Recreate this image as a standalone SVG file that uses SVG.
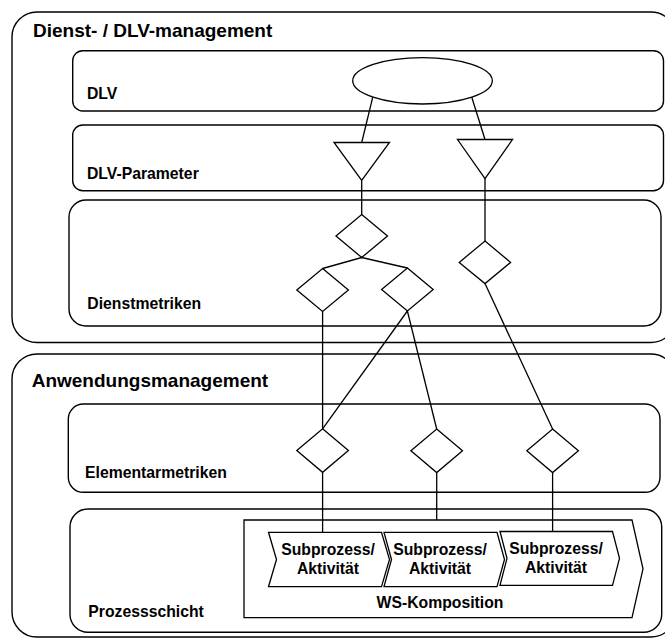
<svg xmlns="http://www.w3.org/2000/svg" width="665" height="639" viewBox="0 0 665 639">
<style>
.box{fill:none;stroke:#000;stroke-width:1.4}
.shape{fill:#fff;stroke:#000;stroke-width:1.3}
.con{fill:none;stroke:#000;stroke-width:1.3}
.t{font-family:"Liberation Sans",Arial,sans-serif;font-weight:bold;fill:#000}
.title{font-size:19px}
.lbl{font-size:15.75px}
.mid{text-anchor:middle}
</style>
<rect width="665" height="639" fill="#fff"/>
<g id="dienst-dlv-management">
<rect class="box" x="12" y="12" width="664" height="330.5" rx="25" ry="25"/>
<text class="t title" x="33" y="36.7">Dienst- / DLV-management</text>
</g>
<g id="layer-dlv">
<rect class="box" x="72.7" y="50.7" width="590.8" height="60.3" rx="10" ry="10"/>
<text class="t lbl" x="87" y="99">DLV</text>
</g>
<g id="layer-dlv-parameter">
<rect class="box" x="72.7" y="125" width="590.8" height="65.7" rx="10" ry="10"/>
<text class="t lbl" x="87" y="179">DLV-Parameter</text>
</g>
<g id="layer-dienstmetriken">
<rect class="box" x="69" y="200" width="592" height="126" rx="17" ry="17"/>
<text class="t lbl" x="87.3" y="309.3">Dienstmetriken</text>
</g>
<g id="anwendungsmanagement">
<rect class="box" x="12" y="354" width="664" height="283" rx="25" ry="25"/>
<text class="t title" x="31.7" y="386.7">Anwendungsmanagement</text>
</g>
<g id="layer-elementarmetriken">
<rect class="box" x="68.3" y="404" width="591.7" height="88.3" rx="15" ry="15"/>
<text class="t lbl" x="85" y="477.7">Elementarmetriken</text>
</g>
<g id="layer-prozessschicht">
<rect class="box" x="70" y="509" width="591.7" height="123.3" rx="18" ry="18"/>
<text class="t lbl" x="88.3" y="616.7">Prozessschicht</text>
</g>
<g id="dlv-node">
<ellipse class="shape" cx="422.5" cy="80.8" rx="69.8" ry="23.2"/>
</g>
<g id="param-1">
<polygon class="shape" points="334,142.5 389.5,142.5 361.7,180.5"/>
</g>
<g id="param-2">
<polygon class="shape" points="457.5,139.5 512.5,139.5 485,178.5"/>
</g>
<g id="dm-1">
<polygon class="shape" points="361.7,214.5 387.5,236 361.7,257.5 336,236"/>
</g>
<g id="dm-2">
<polygon class="shape" points="322.6,268.5 348.4,290 322.6,311.5 296.8,290"/>
</g>
<g id="dm-3">
<polygon class="shape" points="407.4,268 433.2,289.5 407.4,311 381.6,289.5"/>
</g>
<g id="dm-4">
<polygon class="shape" points="485,241 510.6,262.4 485,283.6 459.2,262.4"/>
</g>
<g id="em-1">
<polygon class="shape" points="322.6,428.8 348.4,450.5 322.6,472.3 296.8,450.5"/>
</g>
<g id="em-2">
<polygon class="shape" points="436.7,429 462.5,450.8 436.7,472.6 410.9,450.8"/>
</g>
<g id="em-3">
<polygon class="shape" points="552.6,429 578.4,450.8 552.6,472.6 526.8,450.8"/>
</g>
<g id="ws-komposition">
<polygon class="shape" points="244,520 632,520 643,568.8 632,617.7 244,617.7"/>
<text class="t lbl mid" x="440" y="608.3">WS-Komposition</text>
</g>
<g id="sub-1">
<polygon class="shape" points="268.5,532.3 381.5,532.3 389.5,559.5 381.5,586.7 268.5,586.7 276.5,559.5"/>
<text class="t lbl mid" x="328" y="555">Subprozess/</text>
<text class="t lbl mid" x="328" y="574">Aktivität</text>
</g>
<g id="sub-2">
<polygon class="shape" points="384,532.3 497,532.3 504.5,559.5 497,586.7 384,586.7 391.5,559.5"/>
<text class="t lbl mid" x="440" y="555">Subprozess/</text>
<text class="t lbl mid" x="440" y="574">Aktivität</text>
</g>
<g id="sub-3">
<polygon class="shape" points="500,531.5 612.5,531.5 619.5,558.3 612.5,585.3 500,585.3 507,558.3"/>
<text class="t lbl mid" x="556" y="553.5">Subprozess/</text>
<text class="t lbl mid" x="556" y="572.5">Aktivität</text>
</g>
<g id="connectors">
<line class="con" x1="372.7" y1="97.3" x2="361.7" y2="142.5"/>
<line class="con" x1="471.7" y1="97" x2="485" y2="139.5"/>
<line class="con" x1="361.7" y1="180.5" x2="361.7" y2="214.5"/>
<line class="con" x1="485" y1="178.5" x2="485" y2="241"/>
<polyline class="con" points="322.6,268.5 361.7,257.5 407.4,268"/>
<line class="con" x1="322.6" y1="311.5" x2="322.6" y2="428.8"/>
<line class="con" x1="407.4" y1="311" x2="322.6" y2="428.8"/>
<line class="con" x1="407.4" y1="311" x2="436.7" y2="429"/>
<line class="con" x1="485" y1="283.6" x2="552.6" y2="429"/>
<line class="con" x1="322.6" y1="472.3" x2="322.6" y2="532.3"/>
<line class="con" x1="436.7" y1="472.6" x2="436.7" y2="520"/>
<line class="con" x1="552.6" y1="472.6" x2="552.6" y2="531.5"/>
</g>
</svg>
